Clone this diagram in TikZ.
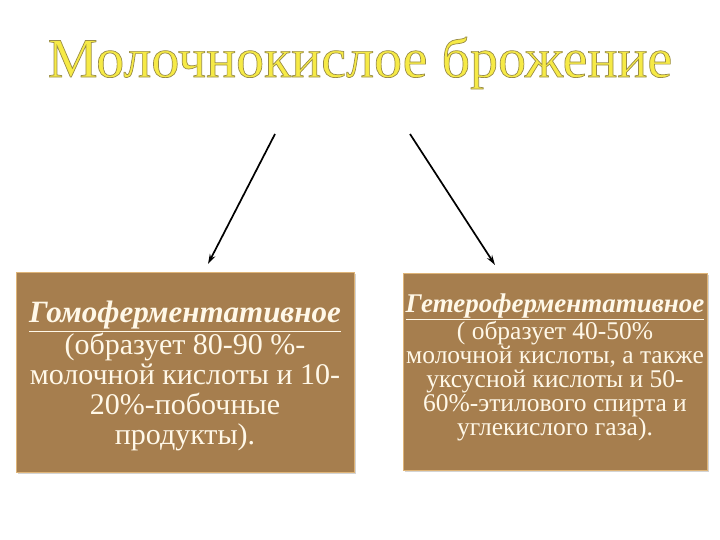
\documentclass[tikz,border=0pt]{standalone}
\usepackage{fontspec}
\setmainfont{Liberation Serif}
\usetikzlibrary{shadows,arrows.meta}

\definecolor{cardboard}{RGB}{166,126,78}
\definecolor{cardedge}{RGB}{222,180,120}
\definecolor{titleyellow}{RGB}{246,234,70}
\definecolor{chalk}{RGB}{255,248,232}

\newcommand{\outlined}[1]{\special{pdf:literal direct 2 Tr 0.7 w 0.6 0.55 0.28 RG}#1\special{pdf:literal direct 0 Tr}}

\tikzset{
    card/.style={fill=cardboard, draw=cardedge, line width=0.8pt,
        drop shadow={shadow xshift=1.5pt, shadow yshift=-1.5pt, opacity=0.35}},
    cardtext/.style={text=chalk, align=center, inner sep=0pt},
    pointer/.style={-{Stealth[length=10pt,width=6pt]}, line width=1.7pt}
}

\begin{document}
\begin{tikzpicture}[x=1pt,y=-1pt]
    \useasboundingbox (0,0) rectangle (720,540);

    % title
    \node (title) [text=titleyellow, font=\fontsize{56}{60}\selectfont] at (360,63) {\outlined{Молочнокислое брожение}};

    % boxes
    \path [card] (16,272) rectangle (354,472);
    \path [card] (403,273) rectangle (707,470);
    \coordinate (homo) at (208,264);
    \coordinate (hetero) at (495,265);

    \node (homotext) [cardtext, font=\fontsize{30}{30}\selectfont] at (185,376)
    {\fontsize{31}{30}\selectfont\textbf{\textit{\underline{Гомоферментативное}}}\\
    (образует 80-90 \%-\\
    молочной кислоты и 10-\\
    20\%-побочные\\
    продукты).};

    \node (heterotext) [cardtext, font=\fontsize{25.5}{24}\selectfont] at (555,367)
    {\fontsize{27}{24}\selectfont\textbf{\textit{\underline{Гетероферментативное}}}\\
    ( образует 40-50\%\\
    молочной кислоты, а также\\
    уксусной кислоты и 50-\\
    60\%-этилового спирта и\\
    углекислого газа).};

    % arrows
    \coordinate (from1) at (275,134);
    \coordinate (from2) at (410,134);
    \draw [pointer] (from1) -- (homo);
    \draw [pointer] (from2) -- (hetero);

\end{tikzpicture}
\end{document}
